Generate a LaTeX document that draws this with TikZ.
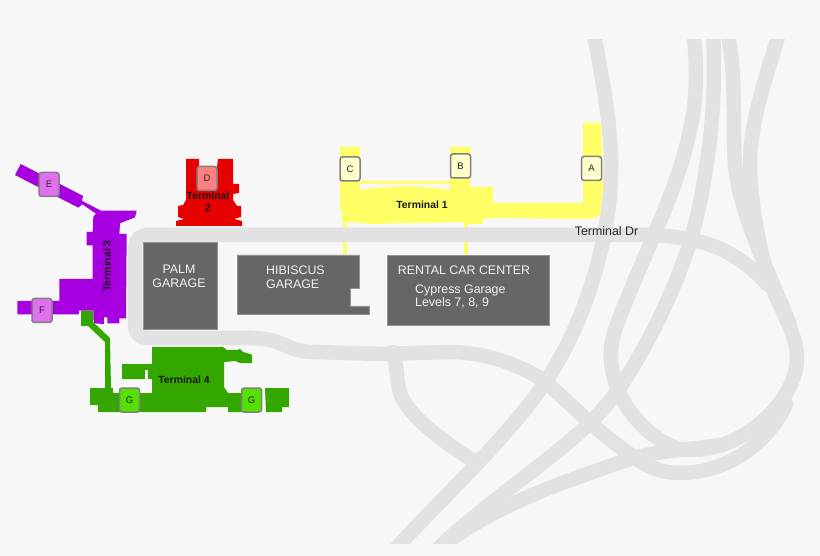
\documentclass[tikz,border=0pt]{standalone}
\usepackage{fontspec}
\setmainfont{Liberation Sans}
\definecolor{bgc}{HTML}{F7F7F7}
\definecolor{roadc}{HTML}{E2E2E2}
\definecolor{garagec}{HTML}{666666}
\definecolor{garagetxt}{HTML}{F2F2F2}
\definecolor{yel}{HTML}{FFFF66}
\definecolor{redt}{HTML}{E60000}
\definecolor{pur}{HTML}{A600E0}
\definecolor{grn}{HTML}{33A600}
\definecolor{gatey}{HTML}{FFFFCC}
\definecolor{gater}{HTML}{FF8080}
\definecolor{gatep}{HTML}{E070F0}
\definecolor{gateg}{HTML}{55E000}
\tikzset{
  road/.style={draw=roadc,line width=14.5pt,line join=round,line cap=round},
  garage/.style={fill=garagec,draw=garagec!70!white,line width=0.4pt},
  gtxt/.style={text=garagetxt,font=\fontsize{12.4}{14}\selectfont,inner sep=0pt},
  gate/.style={draw=black!50,line width=1.5pt,rounded corners=2.5pt,minimum width=20pt,minimum height=24pt,inner sep=0pt,font=\fontsize{9.5}{10}\selectfont,text=black!85},
  tlabel/.style={font=\bfseries\fontsize{10.4}{12}\selectfont,text=black!90,inner sep=0pt},
}
\begin{document}
\begin{tikzpicture}[x=1pt,y=-1pt]
\useasboundingbox (0,0) rectangle (820,556);
\fill[bgc] (0,0) rectangle (820,556);
% yellow stubs below the road
\fill[yel] (343,215) rectangle (347,256);
\fill[yel] (464,215) rectangle (467.5,256);
% roads
\begin{scope}
\clip (0,40) rectangle (820,543);
\draw[road] (593,30) .. controls (603,80) and (612,130) .. (611,173) .. controls (610,240) and (585,320) .. (551,373) .. controls (520,425) and (450,490) .. (401,543) -- (392,553);
\draw[road] (693,30) .. controls (697,60) and (697,95) .. (692,120) .. controls (680,190) and (640,260) .. (615,330) .. controls (598,378) and (635,435) .. (680,449) .. controls (735,458) and (795,405) .. (797,360) .. controls (798,335) and (780,310) .. (768,277) .. controls (760,252) and (750,200) .. (750,163) .. controls (750,120) and (768,72) .. (780,30);
\draw[road] (713,30) .. controls (716,90) and (712,140) .. (701,197) .. controls (690,260) and (655,335) .. (620,387) .. controls (585,440) and (520,475) .. (447,540) -- (435,552);
\draw[road] (727,30) .. controls (737,75) and (732,125) .. (735,163) .. controls (738,210) and (768,270) .. (790,325);
\draw[road] (600,235) -- (650,235) .. controls (690,237) and (730,242) .. (768,285);
\draw[road,rounded corners=12pt] (610,235) -- (135,235) -- (135,338) -- (250,338);
\draw[road] (245,338) -- (250,338) .. controls (285,338) and (285,352) .. (315,352) -- (380,354) -- (450,352) .. controls (480,352) and (515,362) .. (543,380) .. controls (565,398) and (590,425) .. (620,447) .. controls (640,462) and (655,473) .. (680,473) .. controls (730,473) and (770,440) .. (786,404);
\draw[road] (392,352) .. controls (398,365) and (396,378) .. (400,393) .. controls (408,415) and (440,440) .. (477,463);
\draw[road] (435,552) .. controls (490,505) and (570,480) .. (630,459) .. controls (660,450) and (690,450) .. (720,445);
\end{scope}
% garages
\fill[garage] (143,242) rectangle (217,329);
\fill[garage] (237,255) -- (359,255) -- (359,288) -- (350,288) -- (350,306) -- (369,306) -- (369,314) -- (237,314) -- cycle;
\fill[garage] (387,255) rectangle (549,325);
\node[gtxt] (palm1) at (179,269) {PALM};
\node[gtxt] (palm2) at (179,283) {GARAGE};
\node[gtxt,anchor=west] (hib1) at (266,270) {HIBISCUS};
\node[gtxt,anchor=west] (hib2) at (266,284) {GARAGE};
\node[gtxt] (rent) at (464,270) {RENTAL CAR CENTER};
\node[gtxt,anchor=west] (cyp) at (415,290) {Cypress Garage};
\node[gtxt,anchor=west] (lev) at (415,303) {Levels 7, 8, 9};
% Terminal 1
\fill[yel] (340,147) -- (360,147) -- (360,181) -- (450,181) -- (450,147) -- (470,147) -- (470,187) -- (493,187) -- (493,203) -- (583,203) -- (583,123) -- (601,123) -- (603,190) -- (600,215) -- (593,219) -- (583,219) -- (493,218) -- (483,219) -- (483,224) -- (470,224) -- (466,222) -- (370,224) -- (350,222) -- (342,221) -- (342,210) -- (340,210) -- cycle;
\fill[bgc] (360,184) -- (450,184) -- (450,190) .. controls (425,185) and (385,185) .. (360,190) -- cycle;
% Terminal 2
\fill[redt] (186,159) -- (199,159) -- (199,167) -- (217,167) -- (218,159) -- (233,159) -- (233,184) -- (239,184) -- (239,193) -- (233,194) -- (233,200) -- (237,206) -- (241,206) -- (241,217) -- (234,219) -- (242,221) -- (242,226) -- (176,226) -- (176,221) -- (184,219) -- (178,217) -- (178,206) -- (183,205) -- (186,200) -- cycle;
% Terminal 3
\begin{scope}[shift={(0,140)},x=0.33333pt,y=-0.33333pt]
\fill[pur] (62,72) -- (250,168) -- (245,182) -- (303,212) -- (410,212) -- (405,232) -- (360,250) -- (358,282) -- (380,282) -- (378,535) -- (358,535) -- (358,550) -- (322,550) -- (322,532) -- (312,532) -- (312,552) -- (282,550) -- (280,535) -- (280,512) -- (237,512) -- (237,523) -- (52,523) -- (52,483) -- (178,483) -- (178,417) -- (278,417) -- (278,316) -- (260,316) -- (260,276) -- (278,276) -- (280,230) -- (288,221) -- (247,193) -- (235,203) -- (45,105) -- cycle;
\end{scope}
% Terminal 4
\fill[grn] (81,311) -- (93,311) -- (93,322) -- (110,338) -- (111,390) -- (105,390) -- (105,342) -- (88,326) -- (81,326) -- cycle;
\fill[grn] (152,347) -- (223,347) -- (227,350) -- (237,350) -- (240,349) -- (243,352) -- (250,354) -- (252,355) -- (252,363) -- (240,363) -- (235,361) -- (224,362) -- (224,387) -- (228,393) -- (245,393) -- (245,412) -- (228,412) -- (228,407) -- (206,407) -- (206,412) -- (98,412) -- (98,405) -- (90,405) -- (90,388) -- (113,388) -- (113,393) -- (152,393) -- (152,379) -- (122,379) -- (122,364) -- (152,364) -- cycle;
\fill[grn] (265,388) -- (289,388) -- (289,407) -- (282,407) -- (282,412) -- (266,412) -- cycle;
\fill[bgc] (145,370) rectangle (148,379);
% gates
\node[gate,fill=gatey] (gA) at (591.5,168.5) {A};
\node[gate,fill=gatey] (gB) at (460.5,166) {B};
\node[gate,fill=gatey] (gC) at (350,169) {C};
\node[gate,fill=gater] (gD) at (207,178.5) {D};
\node[gate,fill=gatep] (gE) at (49,184.5) {E};
\node[gate,fill=gatep] (gF) at (42,310.5) {F};
\node[gate,fill=gateg] (gG1) at (129.5,400) {G};
\node[gate,fill=gateg] (gG2) at (251.5,400) {G};
% labels
\node[tlabel] (t1) at (422,205) {Terminal 1};
\node[tlabel] (t2a) at (208,196) {Terminal};
\node[tlabel] (t2b) at (208,208) {2};
\node[tlabel,rotate=90] (t3) at (107,266) {Terminal 3};
\node[tlabel] (t4) at (184,380) {Terminal 4};
\node[font=\fontsize{12.4}{14}\selectfont,text=black!85,inner sep=0pt] (dr) at (606.5,231) {Terminal Dr};
\end{tikzpicture}
\end{document}
